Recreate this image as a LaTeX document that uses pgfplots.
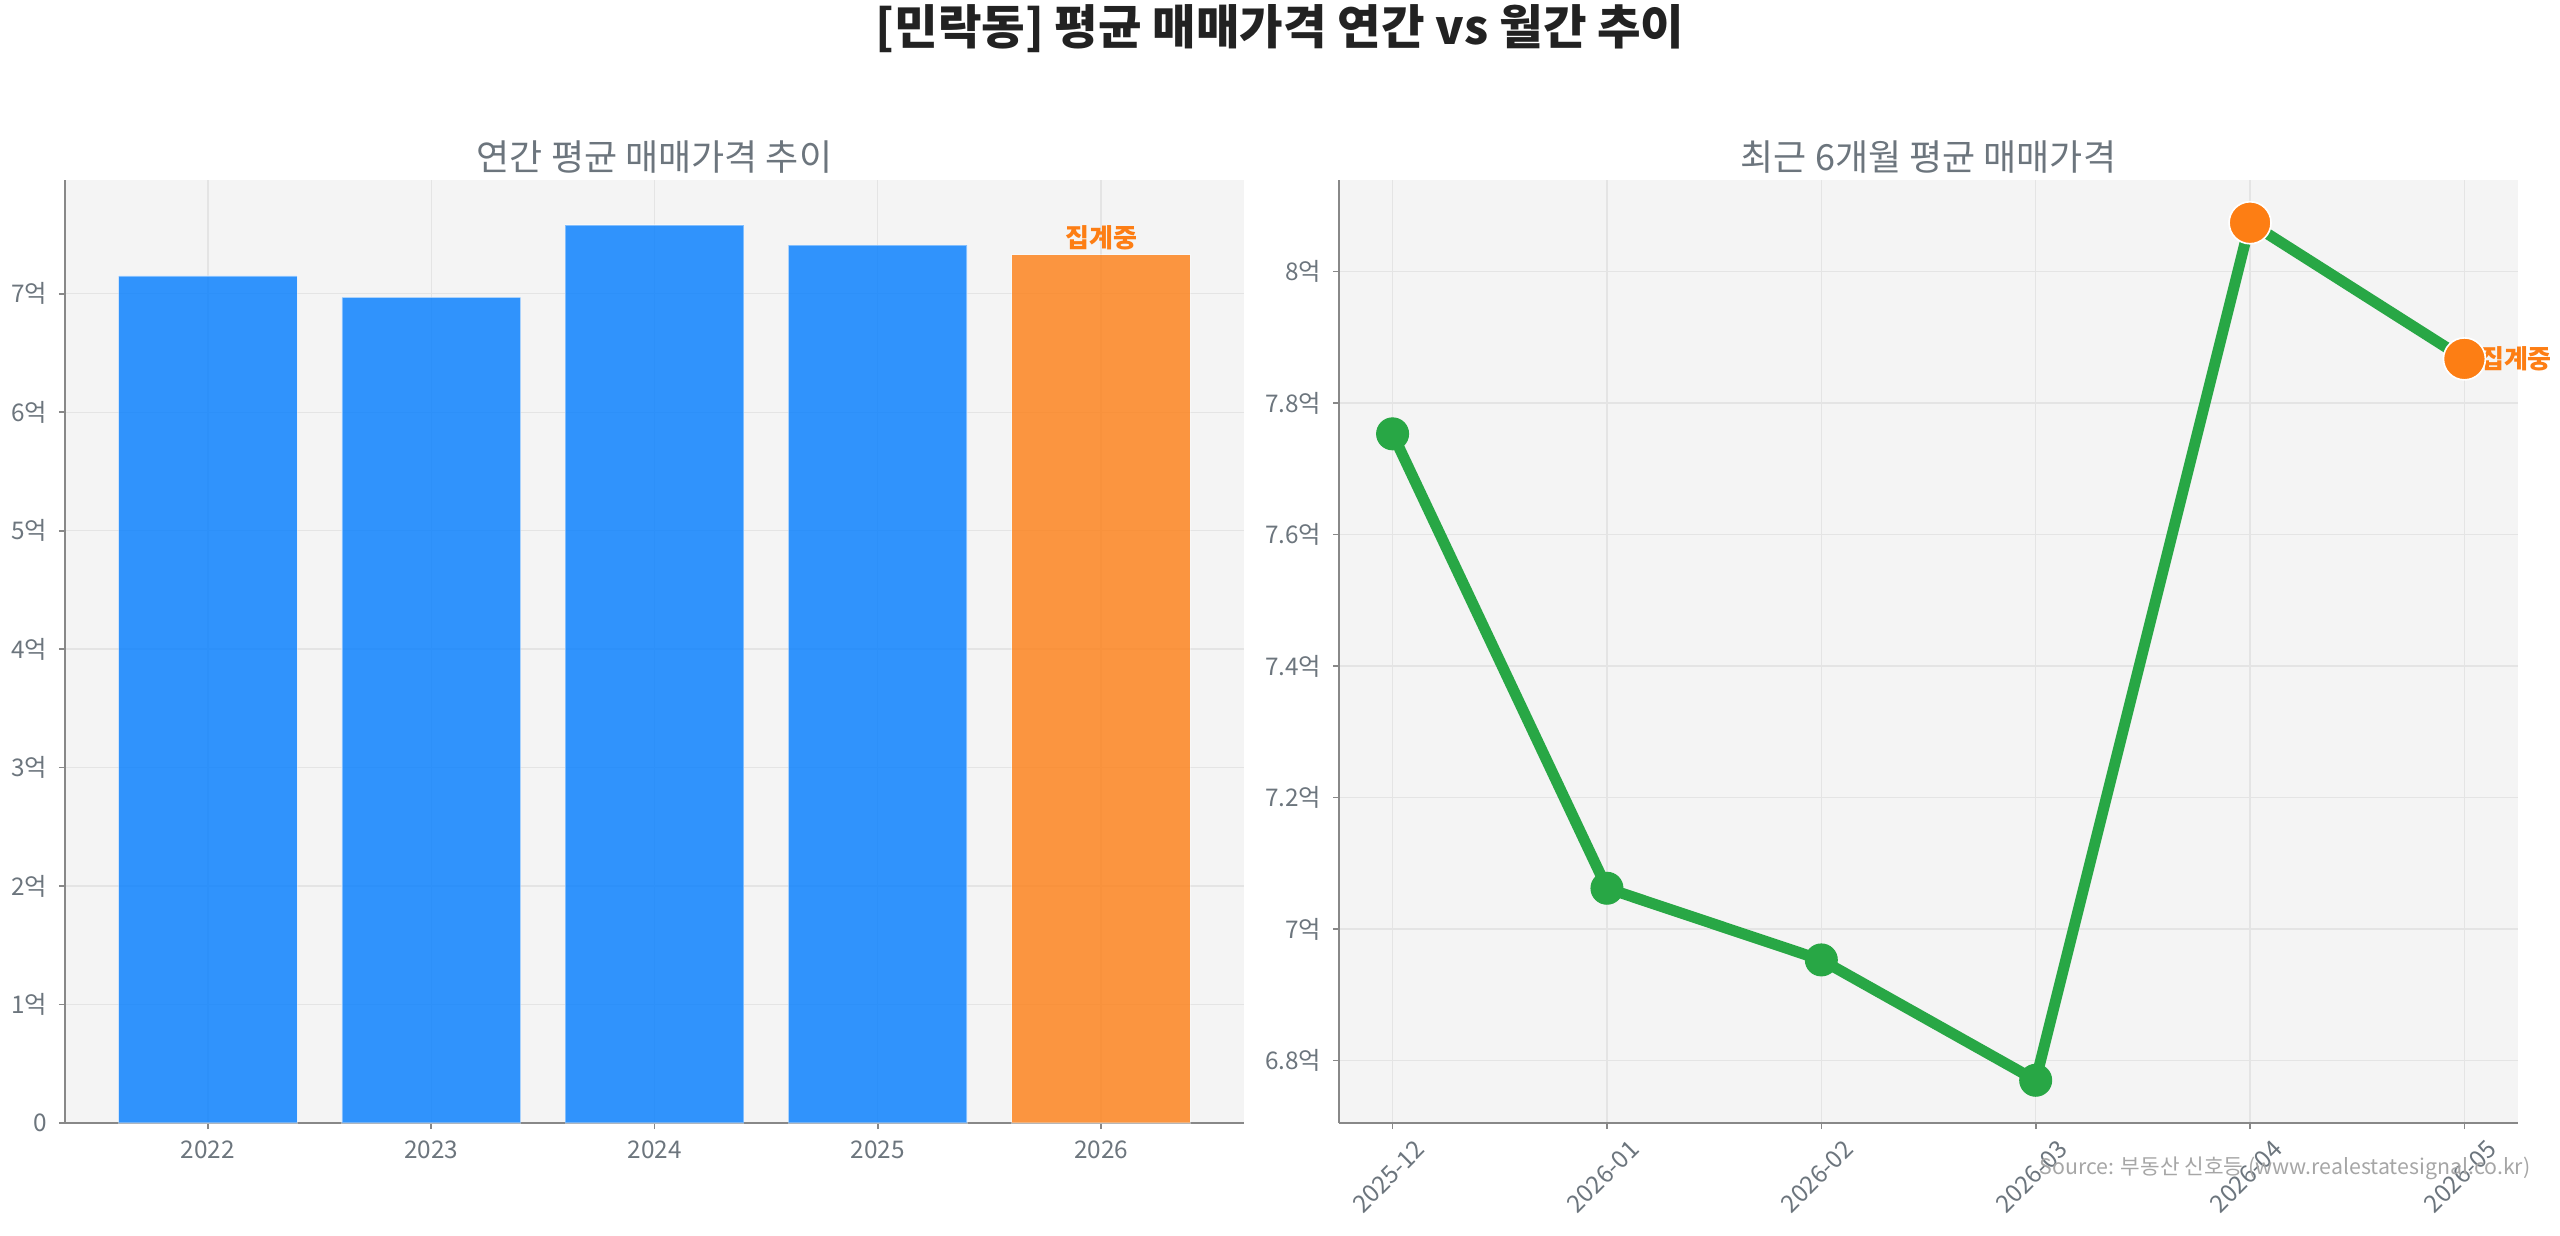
\documentclass[border=0pt]{standalone}
\usepackage{fontspec}
\setmainfont{Noto Sans CJK KR}
\usepackage{pgfplots}
\pgfplotsset{compat=1.18}
\definecolor{bgc}{HTML}{F4F4F4}
\definecolor{gridc}{HTML}{E4E4E4}
\definecolor{tickc}{HTML}{6C757D}
\definecolor{spinec}{HTML}{888888}
\definecolor{barblue}{HTML}{007BFF}
\definecolor{barorange}{HTML}{FD7E14}
\definecolor{lgreen}{HTML}{28A745}
\definecolor{titlec}{HTML}{222222}
\definecolor{srcc}{HTML}{A6A6A6}
\pgfplotsset{
 mystyle/.style={
  scale only axis, width=353.7pt, height=282.9pt,
  axis background/.style={fill=bgc},
  axis x line*=bottom, axis y line*=left,
  axis line style={draw=spinec, line width=0.6pt, -},
  grid=major, major grid style={draw=gridc, line width=0.4pt},
  tick align=outside, major tick length=1.8pt,
  tick style={draw=spinec, line width=0.5pt},
  ticklabel style={font=\fontsize{7.3}{8}\selectfont, text=tickc},
  title style={font=\fontsize{10.8}{12}\selectfont, text=tickc, at={(0.5,1)}, anchor=base, yshift=-3pt},
  clip=false,
 }
}
\begin{document}
\begin{tikzpicture}
\path (0,0) rectangle (768pt,370.5pt);
\node[anchor=base, font=\bfseries\fontsize{14.2}{16}\selectfont, text=titlec] at (384pt,357pt) {[민락동] 평균 매매가격 연간 vs 월간 추이};

\begin{axis}[mystyle, at={(19.5pt,33.6pt)}, anchor=south west,
 title={연간 평균 매매가격 추이},
 xmin=-0.64, xmax=4.64, ymin=0, ymax=7.96,
 xtick={0,...,4}, xticklabels={2022,2023,2024,2025,2026},
 ytick={0,...,7}, yticklabels={0,1억,2억,3억,4억,5억,6억,7억},
 ybar, bar width=0.8,
]
\addplot[bar shift=0pt, fill=barblue, fill opacity=0.8, draw=white, draw opacity=0.4, line width=0.4pt]
 coordinates {(0,7.15) (1,6.97) (2,7.58) (3,7.41)};
\addplot[bar shift=0pt, fill=barorange, fill opacity=0.8, draw=white, draw opacity=0.4, line width=0.4pt,
 nodes near coords={집계중},
 nodes near coords style={anchor=south, inner sep=0pt, yshift=1.2pt, text=barorange, text opacity=1, font=\bfseries\fontsize{7.8}{8}\selectfont}]
 coordinates {(4,7.33)};
\end{axis}

\begin{axis}[mystyle, at={(401.7pt,33.6pt)}, anchor=south west,
 title={최근 6개월 평균 매매가격},
 xmin=-0.25, xmax=5.25, ymin=6.705, ymax=8.139,
 xtick={0,...,5}, xticklabels={2025-12,2026-01,2026-02,2026-03,2026-04,2026-05},
 x tick label style={rotate=45, anchor=north east, xshift=6pt, yshift=-3pt},
 ytick={6.8,7,7.2,7.4,7.6,7.8,8}, yticklabels={6.8억,7억,7.2억,7.4억,7.6억,7.8억,8억},
]
\addplot[lgreen, line width=3.3pt, mark=*, mark size=4.8pt, mark options={fill=lgreen, draw=lgreen, line width=0.3pt}]
 coordinates {(0,7.753) (1,7.062) (2,6.953) (3,6.770) (4,8.074) (5,7.867)};
\addplot[only marks, mark=none, nodes near coords={집계중},
 nodes near coords style={anchor=west, inner sep=0pt, xshift=4.5pt, text=barorange, font=\bfseries\fontsize{7.8}{8}\selectfont}]
 coordinates {(5,7.867)};
\addplot[only marks, mark=*, mark size=6.3pt, mark options={fill=barorange, draw=white, line width=0.5pt}]
 coordinates {(4,8.074) (5,7.867)};
\end{axis}

\node[anchor=east, inner sep=0pt, font=\fontsize{6.4}{8}\selectfont, text=srcc] at (759.3pt,20.1pt) {Source: 부동산 신호등 (www.realestatesignal.co.kr)};
\pgfresetboundingbox
\path[use as bounding box] (0,0) rectangle (768pt,370.5pt);
\end{tikzpicture}
\end{document}
